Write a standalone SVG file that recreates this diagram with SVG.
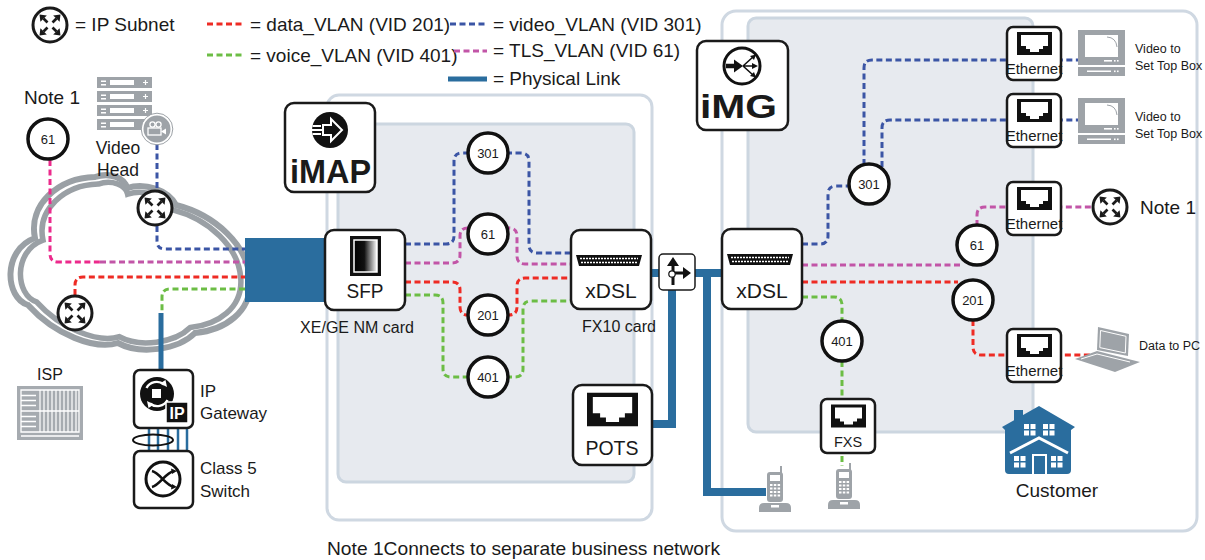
<svg xmlns="http://www.w3.org/2000/svg" width="1205" height="560" viewBox="0 0 1205 560">
<style>
text{font-family:"Liberation Sans",Arial,sans-serif;fill:#1a1a1a}
.t19{font-size:19px}
.t17{font-size:17px}
.t16{font-size:16px}
.t12{font-size:12.5px}
.mid{text-anchor:middle}
.num{font-size:13px;text-anchor:middle}
.big{font-size:21px;text-anchor:middle}
.logo{font-size:34px;font-weight:bold}
.d{fill:none;stroke-width:3;stroke-dasharray:6 3.5}
.red{stroke:#ee2b24}
.grn{stroke:#6cbd45}
.blu{stroke:#3b55a5}
.pnk{stroke:#c255a7}
.hot{stroke:#ec2a8c}
.phys{fill:none;stroke:#2a6d9e;stroke-width:8;stroke-linejoin:miter}
.box{fill:#fff;stroke:#1a1a1a;stroke-width:2.5}
.vc{fill:#fff;stroke:#111;stroke-width:3.5}
.panel{fill:#fff;stroke:#cfd8e2;stroke-width:3}
.inner{fill:#e7eaef;stroke:#ccd6e0;stroke-width:3}
.gray{fill:#9ea3a8}
.wht{fill:#fff}
</style>
<defs>
<linearGradient id="sfpg" x1="0" x2="1" y1="0" y2="0"><stop offset="0" stop-color="#000"/><stop offset="0.45" stop-color="#111"/><stop offset="1" stop-color="#fff"/></linearGradient>
<g id="arrowNE"><path d="M2.5,-2.5 L6.5,-6.5" stroke="#1a1a1a" stroke-width="2.6"/><path d="M10.5,-10.5 L3.2,-9.6 L9.6,-3.2 Z" fill="#1a1a1a"/></g>
<g id="subnet"><circle r="17" fill="#fff" stroke="#1a1a1a" stroke-width="3"/><use href="#arrowNE"/><use href="#arrowNE" transform="rotate(90)"/><use href="#arrowNE" transform="rotate(180)"/><use href="#arrowNE" transform="rotate(270)"/></g>
<symbol id="rj45" viewBox="0 0 35 23"><rect width="35" height="23" fill="#111"/><path d="M4,3H31V14H26V17H22V20H13V17H9V14H4Z" fill="#fff"/></symbol>
<g id="port"><path d="M5,25H71L68,36H8Z" fill="#111"/><path d="M9,28.5H67M10,32.5H66" stroke="#fff" stroke-width="1.3" stroke-dasharray="2 1"/></g>
<g id="eth"><rect width="54" height="53" rx="6" class="box" stroke-width="2"/><use href="#rj45" x="10" y="5" width="35" height="23"/><text x="27" y="47" class="mid" style="font-size:15px">Ethernet</text></g>
<g id="phone"><path d="M6,-6V2" stroke="#9ea3a8" stroke-width="2"/><rect x="-8" y="0" width="16" height="30" rx="3" class="gray"/><rect x="-5" y="3" width="10" height="6" class="wht"/>
<path d="M-5,12h2.5v2h-2.5zM-1.2,12h2.5v2h-2.5zM2.6,12h2.5v2h-2.5zM-5,15.5h2.5v2h-2.5zM-1.2,15.5h2.5v2h-2.5zM2.6,15.5h2.5v2h-2.5zM-5,19h2.5v2h-2.5zM-1.2,19h2.5v2h-2.5zM2.6,19h2.5v2h-2.5zM-5,22.5h2.5v2h-2.5zM-1.2,22.5h2.5v2h-2.5zM2.6,22.5h2.5v2h-2.5z" class="wht"/>
<path d="M-11,31H11Q16,31 16,36V40H-16V36Q-16,31 -11,31Z" class="gray"/><rect x="-4" y="33" width="8" height="2.5" class="wht"/></g>
<g id="tv"><rect width="47" height="35" class="gray"/><rect x="7" y="5" width="33" height="22" class="wht"/><path d="M29,7Q38,7.5 39,17" stroke="#9ea3a8" fill="none" stroke-width="1"/><rect x="26" y="30" width="8" height="1.6" class="wht"/><rect x="36" y="30" width="1.6" height="1.6" class="wht"/><rect x="39" y="30" width="1.6" height="1.6" class="wht"/><rect y="37" width="47" height="9" class="gray"/><rect x="9" y="40.5" width="24" height="1.5" class="wht"/><rect x="36" y="40.5" width="1.6" height="1.6" class="wht"/><rect x="39" y="40.5" width="1.6" height="1.6" class="wht"/></g>
</defs>

<!-- legend -->
<g id="legend">
<use href="#subnet" x="50" y="25"/>
<text x="75" y="31" class="t19">= IP Subnet</text>
<path d="M207,24H245" class="d red"/>
<text x="250" y="31" class="t19">= data_VLAN (VID 201)</text>
<path d="M207,55H245" class="d grn"/>
<text x="250" y="62" class="t19">= voice_VLAN (VID 401)</text>
<path d="M450,24H487" class="d blu"/>
<text x="493" y="31" class="t19">= video_VLAN (VID 301)</text>
<path d="M454,51H487" class="d pnk"/>
<text x="493" y="57" class="t19">= TLS_VLAN (VID 61)</text>
<path d="M448,79H487" stroke="#2a6d9e" stroke-width="5"/>
<text x="493" y="85" class="t19">= Physical Link</text>
</g>

<!-- equipment panels -->
<g id="imap-panel">
<rect x="327" y="95" width="325" height="425" rx="12" class="panel"/>
<rect x="338" y="124" width="296" height="358" rx="8" class="inner"/>
</g>
<g id="img-panel">
<rect x="722" y="11" width="475" height="520" rx="14" class="panel"/>
<rect x="748" y="18" width="285" height="414" rx="8" class="inner"/>
</g>

<!-- provider cloud -->
<g id="cloud" fill="none" stroke="#9aa0a5">
<path id="cloudShape" d="M28,305 C5,298 2,250 35,238 C28,205 58,178 95,177 C110,172 125,178 127,188 C145,182 168,190 176,205 C215,215 248,245 250,280 C252,312 225,330 195,333 C178,350 140,355 118,343 C95,350 55,335 28,305 Z" stroke-width="6"/>
<use href="#cloudShape" transform="translate(135 265) scale(0.92) translate(-135 -265)" stroke-width="3.2"/>
</g>

<!-- VLAN and physical connectors -->
<g id="connectors">
<path d="M50,160V254Q50,262 58,262H100" class="d hot"/>
<path d="M100,262H245" class="d pnk"/>
<path d="M157,144V190M157,226V241Q157,249 165,249H245" class="d blu"/>
<path d="M75,295V285Q75,277 83,277H245" class="d red"/>
<path d="M245,289H170Q162,289 162,297V313" class="d grn"/>
<path d="M161,313V370" stroke="#2a6d9e" stroke-width="5"/>
<path d="M149,428V451M158,428V451M168,428V451M178,428V451M187,428V451" stroke="#2a6d9e" stroke-width="2.5"/>

<path d="M405,244H446Q454,244 454,236V161Q454,153 462,153H470M506,153H521Q529,153 529,161V245Q529,253 537,253H572" class="d blu"/>
<path d="M405,263H452Q460,263 460,255V236Q460,228 468,228H472M504,228H509Q517,228 517,236V256Q517,264 525,264H572" class="d pnk"/>
<path d="M405,282H452Q460,282 460,290V307Q460,315 468,315H470M506,315H509Q517,315 517,307V286Q517,278 525,278H572" class="d red"/>
<path d="M405,295H435Q443,295 443,303V369Q443,377 451,377H470M506,377H515Q523,377 523,369V309Q523,301 531,301H572" class="d grn"/>

<path d="M802,244H820Q828,244 828,236V194Q828,186 836,186H852M864,165V68Q864,60 872,60H1078M882,167V128Q882,120 890,120H1078" class="d blu"/>
<path d="M802,265H962M977,226V215Q977,207 985,207H1093" class="d pnk"/>
<path d="M802,282H958M973,320V347Q973,355 981,355H1095" class="d red"/>
<path d="M802,297H834Q842,297 842,305V322M842,361V466" class="d grn"/>

<path d="M651,273H722M672,290V424H652M707,273V492H766" class="phys"/>
</g>

<!-- network port block feeding the NM card -->
<rect id="uplink" x="245" y="238" width="82" height="64" fill="#2a6d9e"/>

<g id="subnet-video"><use href="#subnet" x="155" y="208"/></g>
<g id="subnet-isp"><use href="#subnet" x="75" y="313"/></g>

<g id="note1-left">
<text x="24" y="104" class="t19">Note 1</text>
<circle cx="48" cy="139" r="20" class="vc"/><text x="48" y="143.5" class="num">61</text>
</g>

<g id="video-head">
<rect x="97" y="77" width="55" height="11" class="gray"/><rect x="97" y="91" width="55" height="11" class="gray"/><rect x="97" y="105" width="55" height="11" class="gray"/><rect x="97" y="119" width="55" height="11" class="gray"/>
<path d="M101,80.5h5v1.5h-5zM101,84h5v1.5h-5zM110,80h24v5h-24zM101,94.5h5v1.5h-5zM101,98h5v1.5h-5zM110,94h24v5h-24zM101,108.5h5v1.5h-5zM101,112h5v1.5h-5zM110,108h24v5h-24zM101,122.5h5v1.5h-5zM101,126h5v1.5h-5zM110,122h24v5h-24z" class="wht"/>
<path d="M143,82.5h5M145.5,80v5M143,96.5h5M145.5,94v5M143,110.5h5M145.5,108v5" stroke="#fff" stroke-width="1.2"/>
<circle cx="157" cy="129" r="14.5" class="gray" stroke="#fff" stroke-width="2"/>
<circle cx="157" cy="129" r="15.8" fill="none" stroke="#9ea3a8" stroke-width="1"/>
<circle cx="152.5" cy="124.5" r="2.6" fill="none" stroke="#fff" stroke-width="1.3"/><circle cx="158.5" cy="124.5" r="2.6" fill="none" stroke="#fff" stroke-width="1.3"/>
<rect x="148" y="128" width="13" height="7" fill="none" stroke="#fff" stroke-width="1.3"/><path d="M161,131.5L166,128.5V134.5Z" class="wht"/>
<text x="118" y="154" class="mid" style="font-size:17.5px">Video</text>
<text x="118" y="176" class="mid" style="font-size:17.5px">Head</text>
</g>

<g id="isp">
<text x="50" y="380" class="mid t16">ISP</text>
<rect x="17" y="386" width="66" height="54" fill="#a6abb0"/>
<path d="M21,390H79V432H21ZM21,411H79M21,395.5H36M21,400.5H36M21,405.5H36M21,416.5H36M21,421.5H36M21,426.5H36M21,436H79" fill="none" stroke="#fff" stroke-width="1.3"/>
<path d="M40,390V432M44,390V432M48,390V432M52,390V432M56,390V432M60,390V432M64,390V432M68,390V432M72,390V432M76,390V432" stroke="#fff" stroke-width="1.2"/>
</g>

<g id="ip-gateway">
<rect x="134" y="370" width="59" height="58" rx="6" class="box" stroke-width="2"/>
<circle cx="157" cy="394" r="17" fill="#111"/>
<path d="M146.5,388A11.5,11.5 0 0 1 164,384.5M167.5,400A11.5,11.5 0 0 1 150,403.5" fill="none" stroke="#fff" stroke-width="2.4"/>
<path d="M167,387L160,383.5L165.5,380ZM147,401L154,404.5L148.5,408Z" class="wht"/>
<rect x="152" y="389" width="9" height="9" class="wht"/>
<rect x="166" y="402" width="22" height="21" fill="#111" stroke="#fff" stroke-width="1.5"/>
<text x="177" y="419" class="mid" style="font-size:16px;font-weight:bold;fill:#fff">IP</text>
<text x="200" y="397" class="t17">IP</text>
<text x="200" y="419" class="t17">Gateway</text>
</g>
<ellipse cx="153" cy="440" rx="20" ry="5.5" fill="none" stroke="#111" stroke-width="2"/>

<g id="class5-switch">
<rect x="134" y="451" width="59" height="57" rx="6" class="box" stroke-width="2"/>
<circle cx="163" cy="479" r="17" fill="#fff" stroke="#111" stroke-width="3"/>
<path d="M152,471C160,473 165,485 174,487M152,487C160,485 165,473 174,471" fill="none" stroke="#111" stroke-width="2.6"/>
<path d="M177,471L171,468.5L172,474ZM177,487L171,489.5L172,484Z" fill="#111"/>
<text x="200" y="474" class="t17">Class 5</text>
<text x="200" y="497" class="t17">Switch</text>
</g>

<g id="imap-logo">
<rect x="285" y="103" width="90" height="89" rx="9" class="box" stroke-width="3"/>
<circle cx="330" cy="130" r="18" fill="#111"/>
<path d="M323,125H331V119L342,130L331,141V135H323Z" fill="#111" stroke="#fff" stroke-width="2"/>
<path d="M312.5,126H321M312,130H322M312.5,134H321" stroke="#fff" stroke-width="1.8"/>
<text x="290" y="183" class="logo" textLength="81" lengthAdjust="spacingAndGlyphs">iMAP</text>
</g>

<g id="img-logo">
<rect x="697" y="41" width="91" height="89" rx="9" class="box" stroke-width="3"/>
<circle cx="742" cy="66" r="18" fill="#fff" stroke="#111" stroke-width="3"/>
<path d="M726,66H735" stroke="#111" stroke-width="4.5"/><path d="M743,66L734,59.5V72.5Z" fill="#111"/>
<path d="M743,66L753,57M743,66H755M743,66L753,75" stroke="#111" stroke-width="1.6"/>
<path d="M756,54.5L750,56L754,60ZM758,66L752,63V69ZM756,77.5L750,76L754,72Z" fill="#111"/>
<text x="700" y="118" class="logo" textLength="77" lengthAdjust="spacingAndGlyphs">iMG</text>
</g>

<g id="sfp">
<rect x="325" y="230" width="80" height="80" rx="9" class="box"/>
<rect x="350" y="236" width="31" height="40" fill="#111"/>
<rect x="354" y="240" width="23" height="32" fill="url(#sfpg)" stroke="#fff" stroke-width="1.5"/>
<text x="365" y="298" class="big" textLength="37" lengthAdjust="spacingAndGlyphs">SFP</text>
<text x="357" y="333" class="mid t16">XE/GE NM card</text>
</g>

<g id="fx10-xdsl">
<rect x="571" y="230" width="80" height="79" rx="9" class="box"/>
<use href="#port" x="571" y="230"/>
<text x="611" y="298" class="big">xDSL</text>
<text x="619" y="332" class="mid t16">FX10 card</text>
</g>

<g id="splitter">
<rect x="659" y="254" width="36" height="36" rx="4" fill="#fff" stroke="#1a1a1a" stroke-width="1.5"/>
<path d="M673,265V285M673,273H684" stroke="#111" stroke-width="3"/>
<path d="M673,257L667,266H679ZM691,273L683,267V279Z" fill="#111"/>
<circle cx="672" cy="274" r="3.2" fill="#fff" stroke="#111" stroke-width="1.2"/>
</g>

<g id="pots">
<rect x="573" y="385" width="79" height="80" rx="9" class="box"/>
<use href="#rj45" x="587" y="392" width="51" height="35" preserveAspectRatio="none"/>
<text x="612" y="455" class="big" textLength="53" lengthAdjust="spacingAndGlyphs">POTS</text>
</g>

<g id="img-xdsl">
<rect x="722" y="229" width="80" height="80" rx="9" class="box"/>
<use href="#port" x="722" y="229"/>
<text x="762" y="298" class="big">xDSL</text>
</g>

<g id="imap-vlans">
<circle cx="488" cy="153" r="20" class="vc"/><text x="488" y="157.5" class="num">301</text>
<circle cx="488" cy="234" r="20" class="vc"/><text x="488" y="238.5" class="num">61</text>
<circle cx="488" cy="315" r="20" class="vc"/><text x="488" y="319.5" class="num">201</text>
<circle cx="488" cy="377" r="20" class="vc"/><text x="488" y="381.5" class="num">401</text>
</g>

<g id="img-vlans">
<circle cx="869" cy="184" r="20" class="vc"/><text x="869" y="188.5" class="num">301</text>
<circle cx="977" cy="245" r="20" class="vc"/><text x="977" y="249.5" class="num">61</text>
<circle cx="973" cy="300" r="20" class="vc"/><text x="973" y="304.5" class="num">201</text>
<circle cx="842" cy="341" r="20" class="vc"/><text x="842" y="345.5" class="num">401</text>
</g>

<g id="eth-video1"><use href="#eth" x="1007" y="27"/></g>
<g id="eth-video2"><use href="#eth" x="1007" y="94"/></g>
<g id="eth-note1"><use href="#eth" x="1007" y="182"/></g>
<g id="eth-data"><use href="#eth" x="1007" y="329"/></g>

<g id="stb1"><use href="#tv" x="1078" y="30"/><text x="1135" y="53" class="t12">Video to</text><text x="1135" y="70" class="t12">Set Top Box</text></g>
<g id="stb2"><use href="#tv" x="1078" y="98"/><text x="1135" y="121" class="t12">Video to</text><text x="1135" y="138" class="t12">Set Top Box</text></g>

<g id="note1-right"><use href="#subnet" x="1110" y="207"/><text x="1140" y="214" class="t19">Note 1</text></g>

<g id="pc">
<path d="M1098,327L1129,334L1128,356L1097,350Z" class="gray"/>
<path d="M1100.5,330.5L1126,336.3L1125.3,353L1099.8,347.6Z" fill="none" stroke="#fff" stroke-width="1"/>
<path d="M1075,359L1097,351L1140,362L1115,372Z" class="gray"/>
<path d="M1081,359L1097,354L1130,362" fill="none" stroke="#fff" stroke-width="1"/>
<text x="1139" y="350" class="t12">Data to PC</text>
</g>

<g id="fxs">
<rect x="821" y="399" width="54" height="54" rx="6" class="box" stroke-width="2"/>
<use href="#rj45" x="831" y="404" width="35" height="24"/>
<text x="848" y="447" class="mid" style="font-size:14.5px">FXS</text>
</g>

<g id="phone-pots"><use href="#phone" x="775" y="472"/></g>
<g id="phone-fxs"><use href="#phone" x="844" y="469"/></g>

<g id="customer">
<rect x="1014" y="410" width="9" height="14" fill="#2a6d9e"/>
<path d="M1039,406L1075,427L1071,430V470Q1071,474 1067,474H1009Q1005,474 1005,470V430L1002,427Z" fill="#2a6d9e"/>
<path d="M1024,424h5v5h-5zM1030.5,424h5v5h-5zM1024,430.5h5v5h-5zM1030.5,430.5h5v5h-5zM1043,424h5v5h-5zM1049.5,424h5v5h-5zM1043,430.5h5v5h-5zM1049.5,430.5h5v5h-5zM1014,456h5v5h-5zM1020.5,456h5v5h-5zM1014,462.5h5v5h-5zM1020.5,462.5h5v5h-5zM1051,456h5v5h-5zM1057.5,456h5v5h-5zM1051,462.5h5v5h-5zM1057.5,462.5h5v5h-5z" class="wht"/>
<path d="M1010,453L1039,438L1068,453" fill="none" stroke="#fff" stroke-width="3"/>
<path d="M1033,474V455H1046V474" fill="none" stroke="#fff" stroke-width="2"/>
<text x="1057" y="497" class="mid t19">Customer</text>
</g>

<text x="327" y="555" class="t19" textLength="393" lengthAdjust="spacingAndGlyphs">Note 1Connects to separate business network</text>
</svg>
